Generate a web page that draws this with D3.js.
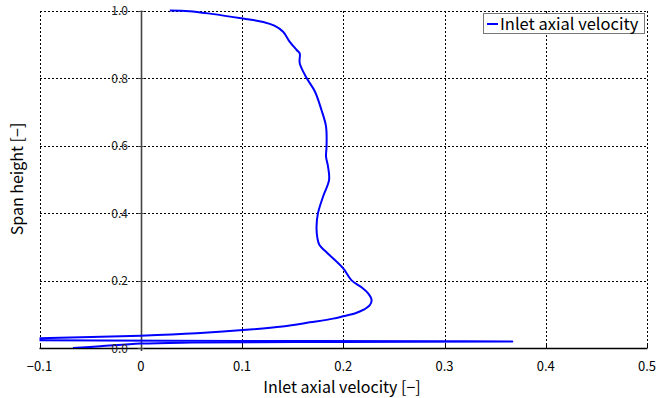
<!DOCTYPE html>
<html><head><meta charset="utf-8">
<script src="https://cdn.jsdelivr.net/npm/d3@7"></script>
<style>
body{margin:0;background:#fff;}
text{font-family:"Noto Sans CJK JP","Noto Sans",sans-serif;}
</style></head>
<body><svg id="c" width="656" height="398"></svg>
<script>
const xTicks = [-0.1, 0, 0.1, 0.2, 0.3, 0.4, 0.5];
const yTicks = [0.0, 0.2, 0.4, 0.6, 0.8, 1.0];
const seriesName = "Inlet axial velocity";
const velocity = [-0.067,-0.04,0.0,0.05,0.2,0.367,0.3,0.1,-0.1,-0.15,-0.1,0.0,0.055,0.101,0.14,0.167,0.19,0.2,0.212,0.2197,0.226,0.228,0.2246,0.218,0.208,0.200,0.183,0.1765,0.1745,0.1736,0.175,0.180,0.186,0.185,0.183,0.1835,0.183,0.1785,0.172,0.164,0.157,0.157,0.154,0.147,0.1406,0.132,0.121,0.101,0.07,0.048,0.0287];
const span = [0.0,0.005,0.013,0.016,0.018,0.019,0.020,0.021,0.023,0.026,0.0287,0.0365,0.0435,0.053,0.064,0.076,0.087,0.094,0.103,0.1126,0.126,0.142,0.162,0.18,0.201,0.236,0.285,0.305,0.325,0.359,0.399,0.448,0.498,0.537,0.567,0.597,0.656,0.705,0.76,0.799,0.844,0.873,0.883,0.908,0.937,0.955,0.966,0.976,0.99,0.998,1.0];

const svg = d3.select("#c");
const L=39.5,R=647,T=10.5,B=348;
const x = d3.scaleLinear().domain([-0.1,0.5]).range([L,R]);
const y = d3.scaleLinear().domain([0,1]).range([B,T]);

const dash = "2,2";
svg.append("g").attr("shape-rendering","crispEdges").selectAll("line").data(xTicks).join("line")
  .attr("x1",d=>Math.round(x(d))+0.5).attr("x2",d=>Math.round(x(d))+0.5)
  .attr("y1",T).attr("y2",B).attr("stroke","#000").attr("stroke-width",1.5)
  .attr("stroke-dasharray",dash);
svg.append("g").attr("shape-rendering","crispEdges").selectAll("line").data(yTicks.filter(d=>d>0)).join("line")
  .attr("x1",L).attr("x2",R).attr("y1",d=>Math.round(y(d))+0.5).attr("y2",d=>Math.round(y(d))+0.5)
  .attr("stroke","#000").attr("stroke-width",1.5).attr("stroke-dasharray",dash);
svg.append("line").attr("x1",L).attr("x2",R+0.5).attr("y1",B+0.5).attr("y2",B+0.5)
  .attr("stroke","#000").attr("stroke-width",1.3);
svg.append("g").selectAll("line").data(xTicks).join("line")
  .attr("x1",d=>Math.round(x(d))+0.5).attr("x2",d=>Math.round(x(d))+0.5)
  .attr("y1",B-3).attr("y2",B).attr("stroke","#000");
svg.append("line").attr("x1",Math.round(x(0))+0.5).attr("x2",Math.round(x(0))+0.5)
  .attr("y1",T).attr("y2",B+3).attr("stroke","#444").attr("stroke-width",1.6);
svg.append("g").selectAll("line").data(yTicks).join("line")
  .attr("x1",x(0)-3).attr("x2",x(0)+3).attr("y1",d=>Math.round(y(d))+0.5).attr("y2",d=>Math.round(y(d))+0.5)
  .attr("stroke","#444");

svg.append("clipPath").attr("id","pc").append("rect")
  .attr("x",L).attr("y",T-2).attr("width",R-L).attr("height",B-T+2);
const pts = velocity.map((v,i)=>[v,span[i]]);
svg.append("path").datum(pts).attr("clip-path","url(#pc)")
  .attr("d",d3.line().x(d=>x(d[0])).y(d=>y(d[1])).curve(d3.curveCatmullRom.alpha(0.5)))
  .attr("fill","none").attr("stroke","#0000ff").attr("stroke-width",2).attr("stroke-linejoin","round");

svg.append("g").selectAll("text").data(yTicks).join("text")
  .attr("x",128).attr("y",d=>y(d)+4.5).attr("text-anchor","end")
  .attr("font-size",12).attr("fill","#222").text(d=>d.toFixed(1));
svg.append("g").selectAll("text").data(xTicks).join("text")
  .attr("x",d=>x(d)).attr("y",371).attr("text-anchor","middle")
  .attr("font-size",13).attr("fill","#000").text(d=>d3.format("")(d));
svg.append("text").attr("x",342).attr("y",393).attr("text-anchor","middle")
  .attr("font-size",16).text("Inlet axial velocity [\u2212]");
svg.append("text").attr("transform","translate(23,179) rotate(-90)").attr("text-anchor","middle")
  .attr("font-size",16).text("Span height [\u2212]");

const lg = svg.append("g");
lg.append("rect").attr("x",483.5).attr("y",13.5).attr("width",161).attr("height",20)
  .attr("fill","#fff").attr("stroke","#777");
lg.append("line").attr("x1",487).attr("x2",498).attr("y1",24).attr("y2",24)
  .attr("stroke","#0000ff").attr("stroke-width",2);
lg.append("text").attr("x",500).attr("y",29.5).attr("font-size",16.5).text(seriesName);
</script></body></html>
